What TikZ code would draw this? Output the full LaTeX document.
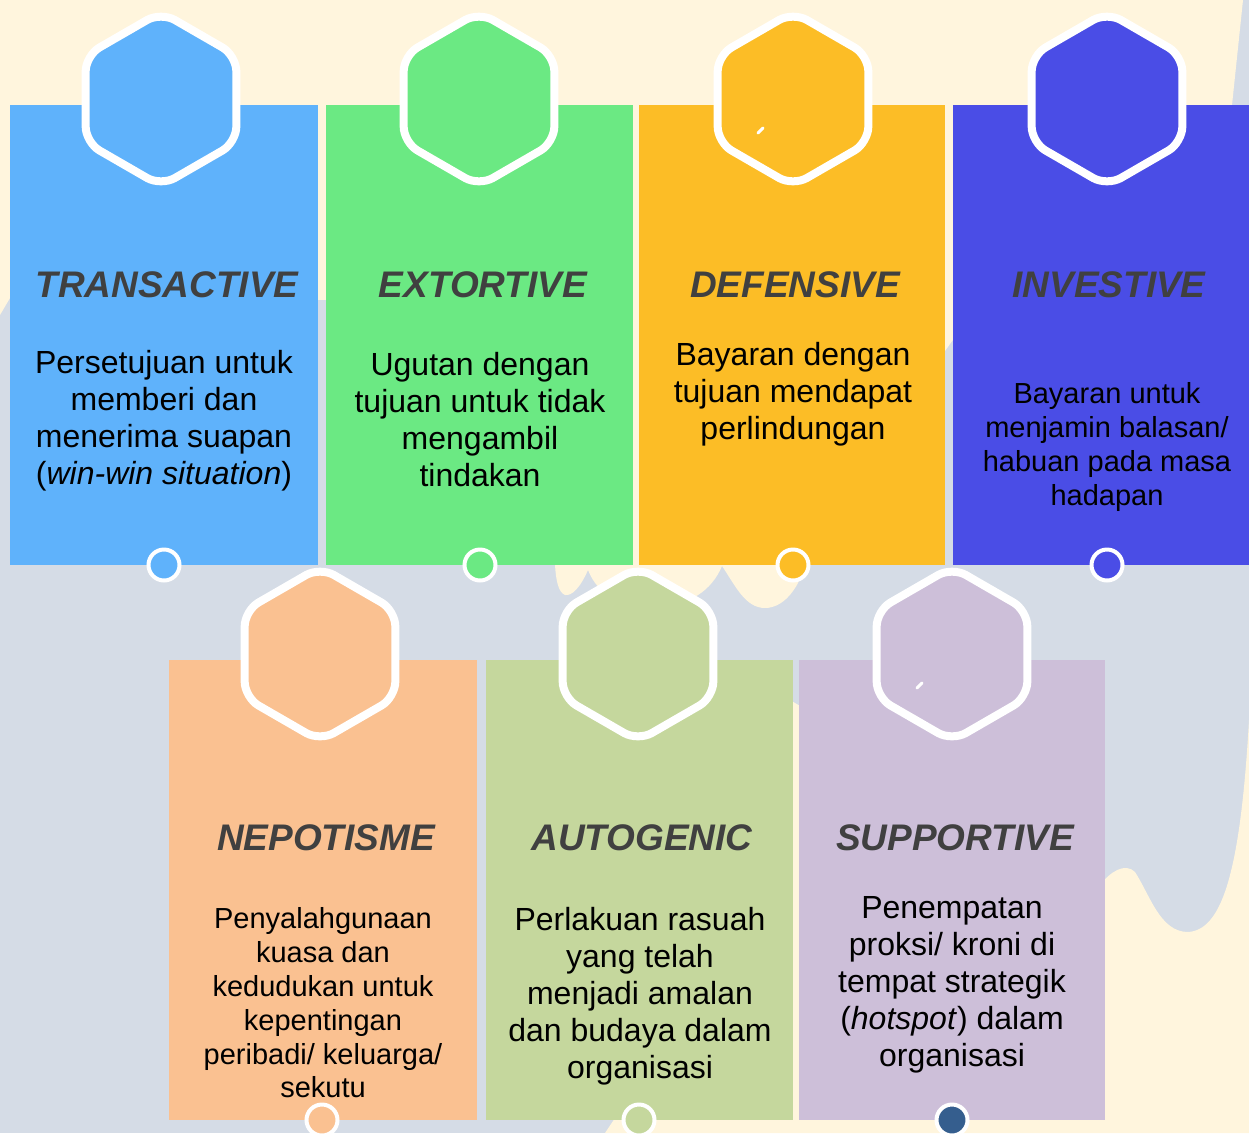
\documentclass[tikz,border=0pt]{standalone}
\usepackage{fontspec}
\setmainfont{Liberation Sans}
\usetikzlibrary{calc}
\definecolor{bggrey}{HTML}{D5DCE6}
\definecolor{cream}{HTML}{FFF5DD}
\definecolor{cblue}{HTML}{5FB2FB}
\definecolor{cgreen}{HTML}{6BE983}
\definecolor{corange}{HTML}{FCBD26}
\definecolor{cindigo}{HTML}{4A4DE6}
\definecolor{cpeach}{HTML}{FAC191}
\definecolor{colive}{HTML}{C5D79D}
\definecolor{clav}{HTML}{CDBFD9}
\definecolor{cdot}{HTML}{355E8E}
\definecolor{ttlgrey}{HTML}{404040}
\newcommand\myhex[4]{%
  \coordinate (#1) at (#2,#3);
  \draw[hexline, fill=#4] ($(#1)+(90:87)$) -- ($(#1)+(150:87)$) -- ($(#1)+(210:87)$)
     -- ($(#1)+(270:87)$) -- ($(#1)+(330:87)$) -- ($(#1)+(30:87)$) -- cycle;}
\begin{document}
\begin{tikzpicture}[x=1pt,y=-1pt,
  card/.style={rectangle, inner sep=0pt, outer sep=0pt, anchor=north west, minimum height=460pt},
  hexline/.style={draw=white, line width=8pt, rounded corners=16pt},
  dot/.style={circle, minimum size=31pt, draw=white, line width=4pt, inner sep=0pt},
  ttl/.style={font=\fontsize{37}{37}\selectfont\bfseries\itshape, text=ttlgrey, inner sep=0pt},
  body/.style={align=center, font=\fontsize{32}{37}\selectfont, inner sep=0pt},
  bodys/.style={align=center, font=\fontsize{29}{33.8}\selectfont, inner sep=0pt},
  speck/.style={white, line width=3pt, line cap=round}]
\useasboundingbox (0,0) rectangle (1249,1133);
% background
\fill[bggrey] (0,0) rectangle (1249,1133);
\fill[cream] (0,0) -- (1243,0) -- (1232,105) -- (1232,300) -- (960,330) -- (810,540)
  .. controls (805,585) and (785,608) .. (765,608)
  .. controls (745,608) and (735,585) .. (722,566)
  .. controls (712,590) and (690,606) .. (655,607)
  .. controls (620,607) and (598,595) .. (588,570)
  .. controls (580,588) and (572,596) .. (565,595)
  .. controls (558,592) and (556,580) .. (555,565)
  -- (330,300) -- (10,298) -- (0,315) -- cycle;
\fill[cream] (605,1133) -- (615,1118) -- (790,700) -- (1100,885)
  .. controls (1110,872) and (1125,862) .. (1135,872)
  .. controls (1150,895) and (1160,932) .. (1188,932)
  .. controls (1220,930) and (1240,880) .. (1249,720) -- (1249,1133) -- cycle;
% cards
\node[card, fill=cblue, minimum width=308pt] (b1) at (10,105) {};
\node[card, fill=cgreen, minimum width=307pt] (b2) at (326,105) {};
\node[card, fill=corange, minimum width=306pt] (b3) at (639,105) {};
\node[card, fill=cindigo, minimum width=296pt] (b4) at (953,105) {};
\node[card, fill=cpeach, minimum width=308pt] (b5) at (169,660) {};
\node[card, fill=colive, minimum width=307pt] (b6) at (486,660) {};
\node[card, fill=clav, minimum width=306pt] (b7) at (799,660) {};
% hexagons
\myhex{h1}{161}{99}{cblue}
\myhex{h2}{479}{99}{cgreen}
\myhex{h3}{793}{99}{corange}
\myhex{h4}{1107}{99}{cindigo}
\myhex{h5}{320}{654}{cpeach}
\myhex{h6}{638}{654}{colive}
\myhex{h7}{952}{654}{clav}
\draw[speck] ($(h3)+(-35,34)$) -- ($(h3)+(-30,29)$);
\draw[speck] ($(h7)+(-35,34)$) -- ($(h7)+(-30,29)$);
% dots
\node[dot, fill=cblue] (c1) at (164,565) {};
\node[dot, fill=cgreen] (c2) at (480,565) {};
\node[dot, fill=corange] (c3) at (793,565) {};
\node[dot, fill=cindigo] (c4) at (1107,565) {};
\node[dot, fill=cpeach] (c5) at (322,1120) {};
\node[dot, fill=colive] (c6) at (639,1120) {};
\node[dot, fill=cdot] (c7) at (952,1120) {};
% titles
\node[ttl] (t1) at (167,285) {TRANSACTIVE};
\node[ttl] (t2) at (483,285) {EXTORTIVE};
\node[ttl] (t3) at (795,285) {DEFENSIVE};
\node[ttl] (t4) at (1109,285) {INVESTIVE};
\node[ttl] (t5) at (326,838) {NEPOTISME};
\node[ttl] (t6) at (642,838) {AUTOGENIC};
\node[ttl] (t7) at (955,838) {SUPPORTIVE};
% bodies
\node[body] (d1) at (164,421) {Persetujuan untuk\\memberi dan\\menerima suapan\\(\textit{win-win situation})};
\node[body] (d2) at (480,420) {Ugutan dengan\\tujuan untuk tidak\\mengambil\\tindakan};
\node[body] (d3) at (793,394) {Bayaran dengan\\tujuan mendapat\\perlindungan};
\node[bodys] (d4) at (1107,447) {Bayaran untuk\\menjamin balasan/\\habuan pada masa\\hadapan};
\node[bodys] (d5) at (323,1003) {Penyalahgunaan\\kuasa dan\\kedudukan untuk\\kepentingan\\peribadi/ keluarga/\\sekutu};
\node[body] (d6) at (640,996) {Perlakuan rasuah\\yang telah\\menjadi amalan\\dan budaya dalam\\organisasi};
\node[body] (d7) at (952,985) {Penempatan\\proksi/ kroni di\\tempat strategik\\(\textit{hotspot}) dalam\\organisasi};
\end{tikzpicture}
\end{document}
